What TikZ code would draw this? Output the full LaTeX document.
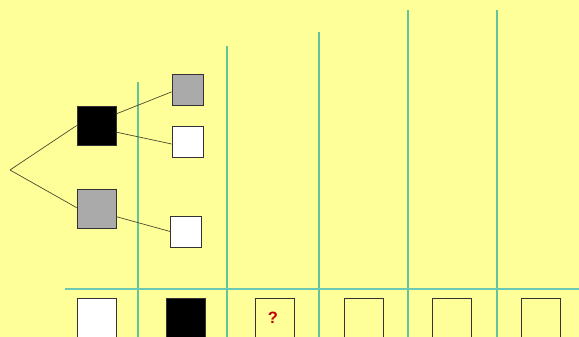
\documentclass[tikz,border=0pt]{standalone}
\usepackage{fontspec}
\setmainfont{Liberation Sans}
\definecolor{bg}{HTML}{FFFF99}
\definecolor{grid}{HTML}{62C49A}
\definecolor{hgrid}{HTML}{6CC8B4}
\definecolor{edge}{HTML}{4A4A30}
\definecolor{boxgray}{HTML}{AAAAAA}
\definecolor{qred}{HTML}{C00000}
\begin{document}
\begin{tikzpicture}[x=0.03cm,y=-0.03cm,
  big/.style={draw=black!80,line width=0.6pt,inner sep=0pt,minimum width=1.17cm,minimum height=1.17cm},
  small/.style={draw=black!80,line width=0.6pt,inner sep=0pt,minimum width=0.93cm,minimum height=0.93cm},
  slot/.style={draw=black!80,line width=0.6pt,inner sep=0pt,minimum width=1.18cm,minimum height=1.8cm,anchor=north},
  branch/.style={draw=edge,line width=0.6pt},
  vline/.style={draw=grid,line width=1pt},
  hline/.style={draw=hgrid,line width=1pt}]
\useasboundingbox (0,0) rectangle (579,337);
\fill[bg] (0,0) rectangle (579,337);
\clip (0,0) rectangle (579,337);
% grid lines
\coordinate (v1t) at (138,82); \coordinate (v1b) at (138,337);
\coordinate (v2t) at (227,46); \coordinate (v2b) at (227,337);
\coordinate (v3t) at (319,32); \coordinate (v3b) at (319,337);
\coordinate (v4t) at (408,10); \coordinate (v4b) at (408,337);
\coordinate (v5t) at (497,10); \coordinate (v5b) at (497,337);
\coordinate (hl) at (65,289); \coordinate (hr) at (579,289);
\draw[vline] (v1t) -- (v1b);
\draw[vline] (v2t) -- (v2b);
\draw[vline] (v3t) -- (v3b);
\draw[vline] (v4t) -- (v4b);
\draw[vline] (v5t) -- (v5b);
\draw[hline] (hl) -- (hr);
% tree
\coordinate (root) at (10,170);
\node[big,fill=black] (b1) at (96.5,125.5) {};
\node[big,fill=boxgray] (g1) at (96.5,209) {};
\node[small,fill=boxgray] (g2) at (187.5,89.5) {};
\node[small,fill=white] (w1) at (187.5,142) {};
\node[small,fill=white] (w2) at (186,231.5) {};
\draw[branch] (root) -- (b1.west);
\draw[branch] (root) -- ([yshift=0.04cm]g1.west);
\draw[branch] ([yshift=0.35cm]b1.east) -- ([yshift=-0.07cm]g2.west);
\draw[branch] ([yshift=-0.2cm]b1.east) -- ([yshift=-0.06cm]w1.west);
\draw[branch] ([yshift=-0.23cm]g1.east) -- (w2.west);
% bottom slots
\node[slot,fill=white] (s1) at (97,298) {};
\node[slot,fill=black] (s2) at (186,298) {};
\node[slot,fill=bg] (s3) at (275,298) {};
\node[slot,fill=bg] (s4) at (364,298) {};
\node[slot,fill=bg] (s5) at (452,298) {};
\node[slot,fill=bg] (s6) at (541,298) {};
\node[text=qred,font=\bfseries\fontsize{14}{16}\selectfont] (q) at (273,317.5) {?};
\end{tikzpicture}
\end{document}
